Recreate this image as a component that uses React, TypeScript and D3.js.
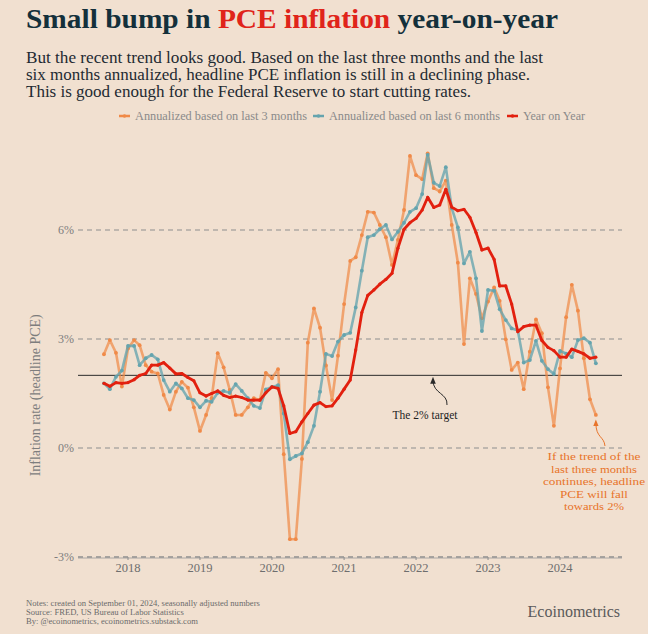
import React from "react";
import * as d3 from "d3";

// ---- Data (monthly, Sep 2017 – Jul 2024) ----
const START_YEAR = 2017;
const START_MONTH = 8; // September (0-based)

const annualized3m = [
  2.58, 2.97, 2.62, 1.69, 2.74, 2.97, 2.83, 2.28, 2.1, 2.05, 1.46, 1.06,
  1.55, 1.82, 1.66, 1.12, 0.47, 0.91, 1.37, 2.61, 2.22, 1.6, 0.91, 0.91,
  1.12, 1.37, 1.32, 2.07, 1.92, 2.17, -0.17, -2.51, -2.51, -0.3, 2.9, 3.84,
  3.31, 2.27, 1.32, 2.54, 3.96, 5.15, 5.25, 5.86, 6.5, 6.48, 6.14, 5.8,
  5.04, 5.73, 6.55, 8.04, 7.51, 7.4, 8.11, 7.15, 7.06, 7.36, 6.14, 5.1,
  2.86, 4.67, 4.24, 3.57, 4.03, 4.42, 4.05, 2.99, 2.15, 2.35, 1.62, 2.65,
  3.54, 3.16, 1.67, 0.61, 2.19, 3.6, 4.49, 3.78, 2.47, 1.34, 0.91,
];

const annualized6m = [
  1.78, 1.62, 1.96, 2.13, 2.81, 2.81, 2.28, 2.47, 2.56, 2.44, 1.87, 1.55,
  1.78, 1.64, 1.37, 1.32, 1.12, 1.3, 1.27, 1.52, 1.57, 1.52, 1.76, 1.57,
  1.37, 1.16, 1.1, 1.61, 1.68, 1.73, 0.95, -0.31, -0.22, -0.15, 0.16, 0.61,
  1.55, 2.59, 2.53, 2.93, 3.11, 3.17, 3.87, 4.88, 5.8, 5.86, 6.02, 6.14,
  5.74, 5.95, 6.2, 6.5, 6.6, 6.99, 8.07, 7.3, 7.21, 7.73, 6.6, 6.07,
  5.08, 5.4, 4.67, 3.22, 4.35, 4.33, 3.82, 3.52, 3.29, 3.24, 2.35, 2.42,
  2.95, 2.4, 2.17, 2.04, 2.67, 2.6, 2.5, 2.97, 3.02, 2.9, 2.33,
];

const yearOnYear = [
  1.78, 1.7, 1.8, 1.78, 1.8, 1.88, 2.0, 2.05, 2.28, 2.28, 2.35, 2.2,
  2.04, 2.05, 1.94, 1.85, 1.52, 1.43, 1.5, 1.57, 1.45, 1.39, 1.43, 1.39,
  1.32, 1.32, 1.32, 1.52, 1.68, 1.64, 1.16, 0.4, 0.45, 0.72, 0.95, 1.18,
  1.25, 1.14, 1.16, 1.37, 1.62, 1.87, 2.7, 3.73, 4.2, 4.35, 4.51, 4.64,
  4.81, 5.5, 6.02, 6.2, 6.32, 6.55, 6.9, 6.62, 6.69, 7.12, 6.63, 6.53,
  6.57, 6.35, 5.93, 5.45, 5.5, 5.19, 4.46, 4.46, 3.96, 3.2, 3.34, 3.38,
  3.38, 2.96, 2.77, 2.68, 2.5, 2.5, 2.72, 2.66, 2.59, 2.47, 2.5,
];

const yTicks = [-3, 0, 3, 6];
const yearTicks = [2018, 2019, 2020, 2021, 2022, 2023, 2024];
const targetRate = 2;

const seriesNames = [
  "Annualized based on last 3 months",
  "Annualized based on last 6 months",
  "Year on Year",
];

const subtitleLines = [
  "But the recent trend looks good. Based on the last three months and the last",
  "six months annualized, headline PCE inflation is still in a declining phase.",
  "This is good enough for the Federal Reserve to start cutting rates.",
];

const noteLines = [
  "If the trend of the",
  "last three months",
  "continues, headline",
  "PCE will fall",
  "towards 2%",
];

const footerLines = [
  "Notes: created on September 01, 2024, seasonally adjusted numbers",
  "Source: FRED, US Bureau of Labor Statistics",
  "By: @ecoinometrics, ecoinometrics.substack.com",
];

// ---- Styling ----
const W = 648;
const H = 634;
const BG = "#f1e0d0";
const ORANGE = "#f08a48";
const TEAL = "#65a4ae";
const RED = "#e2200f";
const GRAY = "#7d7d7d";
const SERIF = "'Liberation Serif', 'DejaVu Serif', serif";

const dateAt = (i: number) => new Date(START_YEAR, START_MONTH + i, 1);

export default function App() {
  const x = d3
    .scaleTime()
    .domain([new Date(2018, 0, 1), new Date(2024, 0, 1)])
    .range([128, 560]);
  const y = d3.scaleLinear().domain([-3, 6]).range([557, 230]);

  const plotLeft = 78;
  const plotRight = 622;

  const mk = (vals: number[]) => vals.map((v, i) => ({ d: dateAt(i), v }));

  const line = d3
    .line<{ d: Date; v: number }>()
    .x((p) => x(p.d))
    .y((p) => y(p.v));

  const series = [
    { name: seriesNames[0], data: mk(annualized3m), color: ORANGE, w: 2.6, op: 0.72, r: 1.9 },
    { name: seriesNames[1], data: mk(annualized6m), color: TEAL, w: 2.6, op: 0.78, r: 1.9 },
    { name: seriesNames[2], data: mk(yearOnYear), color: RED, w: 2.8, op: 1, r: 1.6 },
  ];

  const legendItems = [
    { x: 119, color: ORANGE, label: seriesNames[0], len: 172 },
    { x: 313, color: TEAL, label: seriesNames[1], len: 171 },
    { x: 507, color: RED, label: seriesNames[2], len: 62 },
  ];

  const subLens = [517, 504, 445];
  const noteLens = [93, 86, 102, 68, 60];

  const lastOrange = series[0].data[series[0].data.length - 1];
  const ax = x(lastOrange.d);
  const ay = y(lastOrange.v);

  return (
    <svg
      width={W}
      height={H}
      style={{ position: "absolute", left: 0, top: 0, display: "block" }}
      fontFamily={SERIF}
    >
      <defs>
        <marker id="arrowDark" viewBox="0 0 10 10" refX="5" refY="5" markerWidth="7" markerHeight="7" orient="auto-start-reverse">
          <path d="M0,1 L10,5 L0,9 z" fill="#2a2a2a" />
        </marker>
        <marker id="arrowOrange" viewBox="0 0 10 10" refX="5" refY="5" markerWidth="7" markerHeight="7" orient="auto-start-reverse">
          <path d="M0,1 L10,5 L0,9 z" fill="#e8742a" />
        </marker>
      </defs>
      <rect width={W} height={H} fill={BG} />

      {/* Title */}
      <text x={26} y={28} fontSize={27} fontWeight="bold" fill="#14303b" textLength={532} lengthAdjust="spacingAndGlyphs">
        Small bump in <tspan fill="#e0241a">PCE inflation</tspan> year-on-year
      </text>
      <g fontSize={16} fill="#1e2a32">
        {subtitleLines.map((t, i) => (
          <text key={i} x={26} y={63 + i * 17} textLength={subLens[i]} lengthAdjust="spacingAndGlyphs">
            {t}
          </text>
        ))}
      </g>

      {/* Legend */}
      <g fontSize={12} fill="#8a8a8a">
        {legendItems.map((it) => (
          <g key={it.label}>
            <line x1={it.x} x2={it.x + 11} y1={116} y2={116} stroke={it.color} strokeWidth={2.5} />
            <circle cx={it.x + 5.5} cy={116} r={1.8} fill={it.color} />
            <text x={it.x + 16} y={120} textLength={it.len} lengthAdjust="spacingAndGlyphs">
              {it.label}
            </text>
          </g>
        ))}
      </g>

      {/* Grid */}
      {yTicks.map((t) => (
        <g key={t}>
          <line
            x1={plotLeft}
            x2={plotRight}
            y1={y(t)}
            y2={y(t)}
            stroke="#8e8e8e"
            strokeWidth={t === -3 ? 1.6 : 1.1}
            strokeDasharray="5,4"
          />
          <text x={74} y={y(t) + 4} textAnchor="end" fontSize={12} fill={GRAY}>
            {`${t}%`}
          </text>
        </g>
      ))}
      <line x1={plotLeft} x2={plotRight} y1={y(-3) + 1} y2={y(-3) + 1} stroke="#9a9a9a" strokeWidth={0.8} />

      {/* X axis */}
      {yearTicks.map((yr) => (
        <g key={yr}>
          <line x1={x(new Date(yr, 0, 1))} x2={x(new Date(yr, 0, 1))} y1={y(-3)} y2={y(-3) + 3} stroke="#8e8e8e" strokeWidth={1} />
          <text x={x(new Date(yr, 0, 1))} y={y(-3) + 15} textAnchor="middle" fontSize={12.5} fill="#6e6e6e">
            {yr}
          </text>
        </g>
      ))}

      {/* Y axis title */}
      <text
        transform={`translate(40, ${y(1.45)}) rotate(-90)`}
        textAnchor="middle"
        fontSize={14}
        fill={GRAY}
      >
        Inflation rate (headline PCE)
      </text>

      {/* 2% target */}
      <line x1={plotLeft} x2={plotRight} y1={y(targetRate)} y2={y(targetRate)} stroke="#2b2b2b" strokeWidth={1} />

      {/* Series */}
      {series.map((s) => (
        <g key={s.name}>
          <path d={line(s.data) || ""} fill="none" stroke={s.color} strokeWidth={s.w} strokeOpacity={s.op} strokeLinejoin="round" />
          {s.data.map((p, i) => (
            <circle key={i} cx={x(p.d)} cy={y(p.v)} r={s.r} fill={s.color} />
          ))}
        </g>
      ))}

      {/* Target annotation */}
      <path
        d={`M447,405 C448,393 433,394 433,${y(targetRate) + 5}`}
        fill="none"
        stroke="#2a2a2a"
        strokeWidth={1}
        markerEnd="url(#arrowDark)"
      />
      <text x={425} y={419} textAnchor="middle" fontSize={11.5} fill="#1e1e1e">
        The 2% target
      </text>

      {/* Orange annotation */}
      <path
        d={`M605,446 C604,436 ${ax},438 ${ax},${ay + 8}`}
        fill="none"
        stroke="#e8742a"
        strokeWidth={1}
        markerEnd="url(#arrowOrange)"
      />
      <g fontSize={11} fill="#e8742a" textAnchor="middle">
        {noteLines.map((t, i) => (
          <text key={i} x={594} y={460 + i * 12.6} textLength={noteLens[i]} lengthAdjust="spacingAndGlyphs">
            {t}
          </text>
        ))}
      </g>

      {/* Footer */}
      <g fontSize={8.6} fill="#6b6b6b">
        {footerLines.map((t, i) => (
          <text key={i} x={26} y={606 + i * 9}>
            {t}
          </text>
        ))}
      </g>
      <text x={620} y={617} textAnchor="end" fontSize={16} fill="#5a5a5a">
        Ecoinometrics
      </text>
    </svg>
  );
}
